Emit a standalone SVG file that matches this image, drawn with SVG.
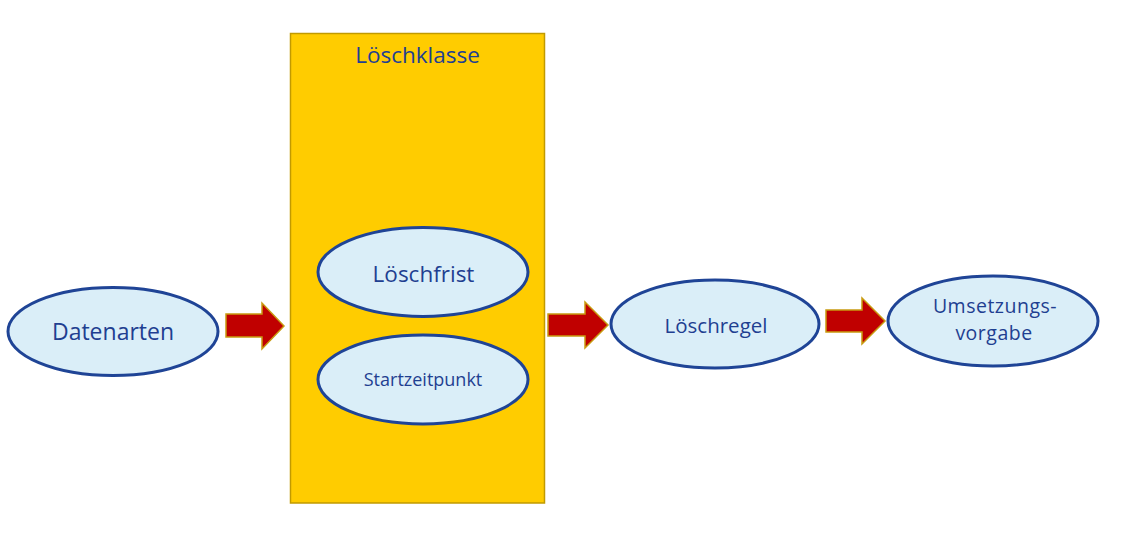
<svg xmlns="http://www.w3.org/2000/svg" width="1132" height="553" viewBox="0 0 1132 553">
<style>
.ell{fill:#DAEEF8;stroke:#1F4496;stroke-width:3}
.t{font-family:"Open Sans","Liberation Sans",sans-serif;fill:#1F3F91;text-anchor:middle}
.arr{fill:#C00000;stroke:#C89A10;stroke-width:1.5}
</style>
<rect width="1132" height="553" fill="#ffffff"/>
<g id="loeschklasse">
<rect x="290.5" y="33.5" width="254" height="469.5" fill="#FFCC00" stroke="#C19A00" stroke-width="1.5"/>
<text class="t" x="417.5" y="63" font-size="22.5">Löschklasse</text>
</g>
<g id="datenarten">
<ellipse class="ell" cx="113" cy="331.5" rx="105" ry="44"/>
<text class="t" x="113" y="340" font-size="23">Datenarten</text>
</g>
<g id="loeschfrist">
<ellipse class="ell" cx="423" cy="272" rx="105" ry="44.5"/>
<text class="t" x="423.5" y="282" font-size="22.5">Löschfrist</text>
</g>
<g id="startzeitpunkt">
<ellipse class="ell" cx="423" cy="379.5" rx="105" ry="44.5"/>
<text class="t" x="423" y="386" font-size="18">Startzeitpunkt</text>
</g>
<g id="loeschregel">
<ellipse class="ell" cx="715" cy="324" rx="104" ry="44"/>
<text class="t" x="716" y="333" font-size="20.5">Löschregel</text>
</g>
<g id="umsetzungsvorgabe">
<ellipse class="ell" cx="993" cy="321" rx="105" ry="45"/>
<text class="t" font-size="19.5" letter-spacing="0.5"><tspan x="995" y="313">Umsetzungs-</tspan><tspan x="994" y="340">vorgabe</tspan></text>
</g>
<g id="connectors">
<polygon class="arr" points="226,314 262,314 262,303 284,326 262,349 262,337 226,337"/>
<polygon class="arr" points="548,314 585,314 585,302 608,325 585,348 585,336 548,336"/>
<polygon class="arr" points="826,310 862,310 862,298 885,321 862,344 862,332 826,332"/>
</g>
</svg>
